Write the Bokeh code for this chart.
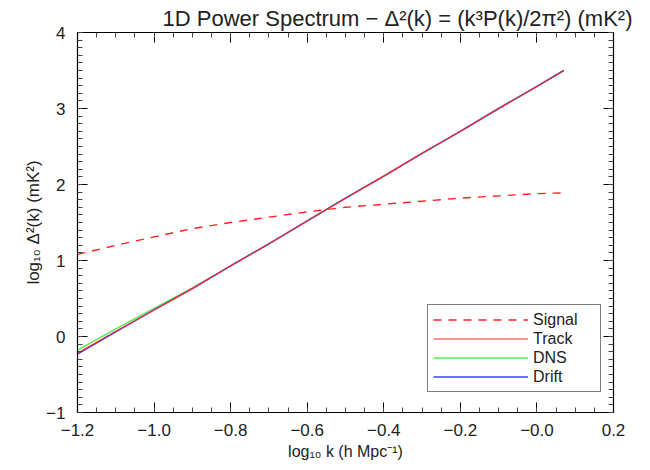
from bokeh.plotting import figure
from bokeh.models import (FixedTicker, LinearAxis, Legend, LegendItem, ColumnDataSource)
from bokeh.embed import file_html
from bokeh.resources import INLINE

# ---- data ----
logk = [-1.2, -1.1, -1.0, -0.9, -0.8, -0.7, -0.6, -0.5, -0.4, -0.3, -0.2, -0.1, 0.0, 0.07]
signal = [1.08, 1.20, 1.31, 1.42, 1.50, 1.57, 1.64, 1.70, 1.74, 1.78, 1.82, 1.85, 1.88, 1.89]
track = [-0.22, 0.07, 0.35, 0.63, 0.93, 1.22, 1.52, 1.82, 2.11, 2.41, 2.70, 3.00, 3.29, 3.50]
dns = [-0.18, 0.10, 0.37, 0.64, 0.93, 1.22, 1.52, 1.82, 2.11, 2.41, 2.70, 3.00, 3.29, 3.50]
drift = [-0.23, 0.06, 0.35, 0.63, 0.93, 1.22, 1.52, 1.82, 2.11, 2.41, 2.70, 3.00, 3.29, 3.50]

x_ticks = [-1.2, -1.0, -0.8, -0.6, -0.4, -0.2, 0.0, 0.2]
x_tick_labels = ["\u22121.2", "\u22121.0", "\u22120.8", "\u22120.6", "\u22120.4", "\u22120.2", "\u22120.0", "0.2"]
y_ticks = [-1, 0, 1, 2, 3, 4]
y_tick_labels = ["\u22121", "0", "1", "2", "3", "4"]

title_text = "1D Power Spectrum \u2212 \u0394\u00b2(k) = (k\u00b3P(k)/2\u03c0\u00b2) (mK\u00b2)"
x_label = "log\u2081\u2080 k (h Mpc\u207b\u00b9)"
y_label = "log\u2081\u2080 \u0394\u00b2(k) (mK\u00b2)"

FONT = "Liberation Sans"
TXT = "#222222"

src = ColumnDataSource(dict(x=logk, signal=signal, track=track, dns=dns, drift=drift))

p = figure(width=634, height=462, x_range=(-1.2, 0.2), y_range=(-1, 4),
           output_backend="svg", toolbar_location=None,
           min_border_left=77, min_border_right=21, min_border_top=32, min_border_bottom=50,
           x_axis_location=None, y_axis_location=None)
p.grid.visible = False
p.outline_line_color = "black"
p.outline_line_width = 1.2

p.title.text = title_text
p.title.align = "right"
p.title.offset = -19
p.title.text_font = FONT
p.title.text_font_size = "22px"
p.title.text_font_style = "normal"
p.title.text_color = TXT
p.title.standoff = 4

xminor = [round(-1.2 + 0.05 * i, 4) for i in range(29)]
yminor = [round(-1 + 0.1 * i, 4) for i in range(51)]

def style_axis(ax, ticks, minor, labels, show_labels):
    ax.ticker = FixedTicker(ticks=ticks, minor_ticks=minor)
    ax.major_tick_in = 10
    ax.major_tick_out = 0
    ax.minor_tick_in = 5
    ax.minor_tick_out = 0
    ax.axis_line_color = "black"
    ax.major_tick_line_color = "black"
    ax.minor_tick_line_color = "#444444"
    if show_labels:
        ax.major_label_overrides = {t: l for t, l in zip(ticks, labels)}
        ax.major_label_text_font = FONT
        ax.major_label_text_font_size = "17px"
        ax.major_label_text_color = TXT
    else:
        ax.major_label_overrides = {t: "" for t in ticks}
        ax.major_label_standoff = 0

xb = LinearAxis(axis_label=x_label)
style_axis(xb, x_ticks, xminor, x_tick_labels, True)
xb.major_label_standoff = 11
xb.axis_label_standoff = 4
xb.axis_label_text_font = FONT
xb.axis_label_text_font_size = "16px"
xb.axis_label_text_font_style = "normal"
xb.axis_label_text_color = TXT
p.add_layout(xb, "below")

yl = LinearAxis(axis_label=y_label)
style_axis(yl, y_ticks, yminor, y_tick_labels, True)
yl.major_label_standoff = 12
yl.axis_label_standoff = 0
yl.axis_label_text_font = FONT
yl.axis_label_text_font_size = "17px"
yl.axis_label_text_font_style = "normal"
yl.axis_label_text_color = TXT
p.add_layout(yl, "left")

xt = LinearAxis()
style_axis(xt, x_ticks, xminor, x_tick_labels, False)
p.add_layout(xt, "above")

yr = LinearAxis()
style_axis(yr, y_ticks, yminor, y_tick_labels, False)
p.add_layout(yr, "right")

r_sig = p.line("x", "signal", source=src, line_color="#ff2020", line_width=1.4, line_dash="8 7")
r_dns = p.line("x", "dns", source=src, line_color="#55ee55", line_width=1.5)
r_drift = p.line("x", "drift", source=src, line_color="#3344ff", line_width=1.5)
r_track = p.line("x", "track", source=src, line_color="#ff2a2a", line_width=1.2)

legend = Legend(items=[
    LegendItem(label="Signal", renderers=[r_sig]),
    LegendItem(label="Track", renderers=[r_track]),
    LegendItem(label="DNS", renderers=[r_dns]),
    LegendItem(label="Drift", renderers=[r_drift]),
], location=(350, 20))
legend.glyph_width = 95
legend.label_width = 62
legend.label_text_font = FONT
legend.label_text_font_size = "16px"
legend.label_text_color = TXT
legend.label_height = 19
legend.glyph_height = 19
legend.spacing = 0
legend.padding = 5
legend.margin = 0
legend.border_line_color = "black"
legend.border_line_width = 1.2
legend.background_fill_alpha = 1
p.add_layout(legend, "center")

open("out.html", "w").write(file_html(p, INLINE))
